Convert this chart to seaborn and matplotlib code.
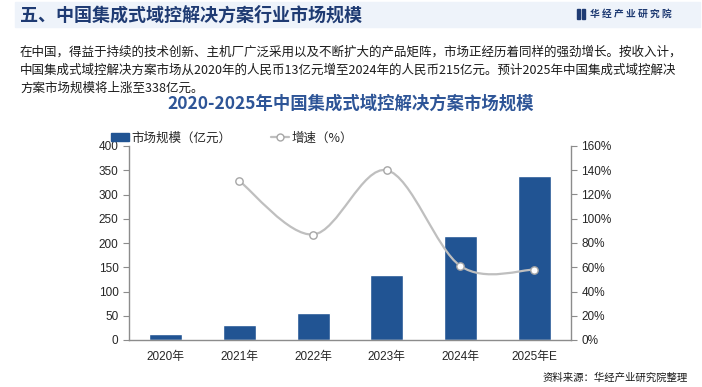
import numpy as np
import pandas as pd
import matplotlib
matplotlib.use('Agg')
import matplotlib.pyplot as plt
from matplotlib.path import Path
from matplotlib.patches import PathPatch, Rectangle
from matplotlib.lines import Line2D
import seaborn as sns

# data
years = ['2020年', '2021年', '2022年', '2023年', '2024年', '2025年E']
market_size = [13, 30, 56, 134, 215, 338]          # 亿元
growth = [np.nan, 131, 87, 140, 61, 58]             # %

left_ticks = [0, 50, 100, 150, 200, 250, 300, 350, 400]
right_ticks = [0, 20, 40, 60, 80, 100, 120, 140, 160]

header = '五、中国集成式域控解决方案行业市场规模'
intro = ['在中国，得益于持续的技术创新、主机厂广泛采用以及不断扩大的产品矩阵，市场正经历着同样的强劲增长。按收入计，',
         '中国集成式域控解决方案市场从2020年的人民币13亿元增至2024年的人民币215亿元。预计2025年中国集成式域控解决',
         '方案市场规模将上涨至338亿元。']
title = '2020-2025年中国集成式域控解决方案市场规模'

sns.set_style('white')
plt.rcParams['font.family'] = ['Liberation Sans', 'Noto Sans CJK SC', 'DejaVu Sans']
cjk = ['Noto Sans CJK SC', 'DejaVu Sans']

BLUE = '#215493'
GREY = '#BFBFBF'
AXC = '#8C8C8C'

fig = plt.figure(figsize=(7.02, 3.87), dpi=100)

# header band
fig.patches.append(Rectangle((15 / 702, 1 - 27 / 387), 685 / 702, 25 / 387,
                             transform=fig.transFigure, color='#EEF3FA', zorder=0))
fig.text(20 / 702, 1 - 15 / 387, header, fontsize=13, fontweight='bold',
         color='#1F3B73', va='center', ha='left', family=cjk)
fig.patches.append(Rectangle((577 / 702, 1 - 19 / 387), 3 / 702, 10 / 387,
                             transform=fig.transFigure, color='#1F3B73'))
fig.patches.append(Rectangle((581.5 / 702, 1 - 19 / 387), 3 / 702, 10 / 387,
                             transform=fig.transFigure, color='#1F3B73'))
fig.text(590 / 702, 1 - 14 / 387, '华 经 产 业 研 究 院', fontsize=7, fontweight='bold',
         color='#1F3B73', va='center', ha='left', family=cjk)

for i, line in enumerate(intro):
    fig.text(20 / 702, 1 - (52 + 18 * i) / 387, line, fontsize=9, color='#1A1A1A',
             va='center', ha='left', family=cjk)
fig.text(351 / 702, 1 - 104 / 387, title, fontsize=12.5, fontweight='bold',
         color='#2E5597', va='center', ha='center', family=cjk)

ax = fig.add_axes([129 / 702, 1 - 340 / 387, 442 / 702, 194 / 387])
ax.patch.set_alpha(0)
df = pd.DataFrame({'year': years, 'size': market_size, 'growth': growth})
sns.barplot(data=df, x='year', y='size', color=BLUE, width=0.45, saturation=1, ax=ax, zorder=2)
ax.set_xlim(-0.5, len(years) - 0.5)
ax.set_ylim(0, 400)
ax.set_yticks(left_ticks)
ax.set_xlabel('')
ax.set_ylabel('')
ax.set_xticks(np.arange(len(years)))
ax.set_xticklabels(years, fontsize=8.5)
ax.set_xticks(np.arange(len(years) + 1) - 0.5, minor=True)
ax.tick_params(axis='x', which='major', length=0, pad=8)
ax.tick_params(axis='x', which='minor', length=4, color=AXC, direction='out')
ax.tick_params(axis='y', labelsize=8.5, length=4, color=AXC, direction='out', left=True)
for s in ['top', 'right']:
    ax.spines[s].set_visible(False)
for s in ['left', 'bottom']:
    ax.spines[s].set_color(AXC)
    ax.spines[s].set_linewidth(1)

ax2 = ax.twinx()
ax2.set_ylim(0, 160)
ax2.set_yticks(right_ticks)
ax2.set_yticklabels([f'{t}%' for t in right_ticks])
ax2.tick_params(axis='y', labelsize=8.5, length=4, color=AXC, direction='out', right=True)
for s in ['top', 'left', 'bottom']:
    ax2.spines[s].set_visible(False)
ax2.spines['right'].set_color(AXC)
ax2.spines['right'].set_linewidth(1)

# smoothed growth line (Catmull-Rom style Bezier through the points, done in pixel space)
g = df.dropna(subset=['growth'])
pts = ax2.transData.transform(np.column_stack([g.index.values.astype(float), g['growth'].values]))
n = len(pts)
verts = [pts[0]]
codes = [Path.MOVETO]
for i in range(n - 1):
    p0 = pts[i - 1] if i > 0 else pts[i]
    p1, p2 = pts[i], pts[i + 1]
    p3 = pts[i + 2] if i + 2 < n else pts[i + 1]
    verts += [p1 + (p2 - p0) / 6, p2 - (p3 - p1) / 6, p2]
    codes += [Path.CURVE4] * 3
verts = ax2.transData.inverted().transform(np.array(verts))
ax2.add_patch(PathPatch(Path(verts, codes), facecolor='none', edgecolor=GREY, lw=1.6, zorder=3))
sns.scatterplot(x=g.index.values, y=g['growth'].values, ax=ax2, s=28, color='white',
                edgecolor='#A6A6A6', linewidth=1, zorder=4, legend=False)
ax2.set_xlim(-0.5, len(years) - 0.5)

handles = [Rectangle((0, 0), 1, 1, color=BLUE),
           Line2D([0], [0], color=GREY, lw=1.6, marker='o', markersize=5,
                  markerfacecolor='white', markeredgecolor='#A6A6A6')]
leg = fig.legend(handles, ['市场规模（亿元）', '增速（%）'], loc='center',
                 bbox_to_anchor=(232 / 702, 1 - 138 / 387), ncol=2, frameon=False,
                 handlelength=1.4, handleheight=0.6, columnspacing=3.2,
                 handletextpad=0.2, prop={'family': cjk, 'size': 9})

fig.text(688 / 702, 1 - 378 / 387, '资料来源：华经产业研究院整理', fontsize=7.5,
         color='#1A1A1A', ha='right', va='center', family=cjk)

fig.savefig('out.png', dpi=100)
